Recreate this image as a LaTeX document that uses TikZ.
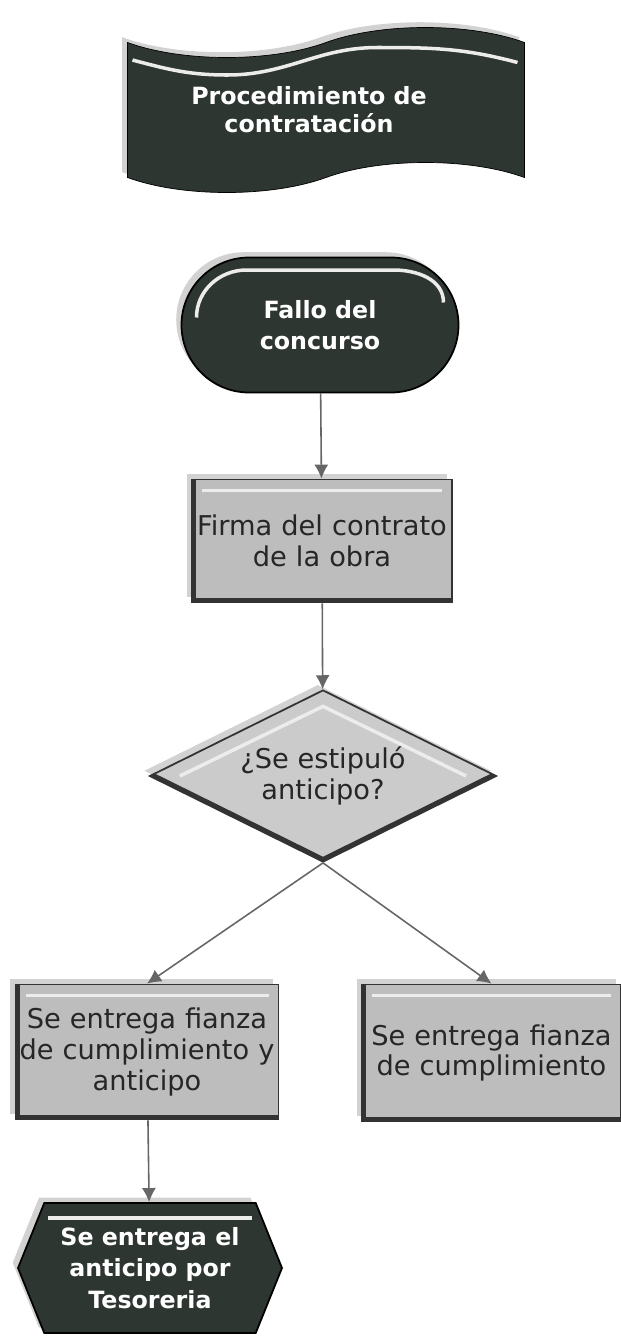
\documentclass[tikz,border=0pt]{standalone}
\usepackage{fontspec}
\setmainfont{DejaVu Sans}
\usetikzlibrary{arrows.meta,shapes.geometric,shapes.symbols,shapes.misc,shadows}
\definecolor{oscuro}{HTML}{2E3631}
\definecolor{gris}{HTML}{BDBDBD}
\definecolor{grisclaro}{HTML}{CBCBCB}
\definecolor{borde}{HTML}{333333}

\begin{document}
\begin{tikzpicture}[auto,
  letra/.style={font=\fontsize{15.5}{17.5}\selectfont, align=center, inner sep=0pt},
  blanca/.style={font=\bfseries\fontsize{13.5}{18}\selectfont, align=center, inner sep=0pt, text=white},
  sombra/.style={drop shadow={shadow xshift=-3pt, shadow yshift=3pt, fill=black!35, opacity=.5}},
  brillo/.style={draw=white!85!gray, line width=2pt},
  banda/.style={tape, tape bend top=in and out, tape bend bottom=in and out, tape bend height=0.6cm,
    fill=oscuro, draw=black, sombra, minimum width=7.94cm, minimum height=3.3cm, blanca,
    font=\bfseries\fontsize{13.5}{16}\selectfont,
    path picture={\draw[brillo] ([shift={(0.1,-0.75)}]path picture bounding box.north west)
      to[out=-15,in=180] ([shift={(2.0,-1.05)}]path picture bounding box.north west)
      to[out=0,in=180] ([shift={(5.0,-0.5)}]path picture bounding box.north west)
      to[out=0,in=165] ([shift={(7.8,-0.8)}]path picture bounding box.north west);}},
  terminal/.style={rounded rectangle, fill=oscuro, draw=black, line width=1pt, sombra, blanca,
    minimum width=5.54cm, minimum height=2.7cm,
    path picture={\draw[brillo] ([shift={(0.3,-1.2)}]path picture bounding box.north west)
      to[out=90,in=180] ([shift={(1.3,-0.25)}]path picture bounding box.north west)
      -- ([shift={(-1.3,-0.25)}]path picture bounding box.north east)
      to[out=0,in=90] ([shift={(-0.3,-0.9)}]path picture bounding box.north east);}},
  proceso/.style={rectangle, fill=gris, draw=borde, line width=1pt, sombra, letra, text=black!85,
    path picture={\draw[brillo] ([shift={(0.2,-0.22)}]path picture bounding box.north west)
      -- ([shift={(-0.2,-0.22)}]path picture bounding box.north east);
      \draw[borde, line width=5pt] (path picture bounding box.north west)
      -- (path picture bounding box.south west) -- (path picture bounding box.south east);}},
  decision/.style={diamond, aspect=2, fill=grisclaro, draw=borde, line width=1pt, sombra, letra, text=black!85,
    minimum width=6.94cm, minimum height=3.44cm,
    path picture={\draw[brillo] ([xshift=0.6cm]path picture bounding box.west)
      -- ([yshift=-0.32cm]path picture bounding box.north) -- ([xshift=-0.6cm]path picture bounding box.east);
      \draw[borde, line width=5pt] (path picture bounding box.west)
      -- (path picture bounding box.south) -- (path picture bounding box.east);}},
  preparacion/.style={signal, signal to=west and east, signal pointer angle=136, fill=oscuro, draw=black,
    line width=1pt, sombra, blanca, minimum width=5.28cm, minimum height=2.6cm,
    path picture={\draw[brillo] ([shift={(0.6,-0.3)}]path picture bounding box.north west)
      -- ([shift={(-0.6,-0.3)}]path picture bounding box.north east);}},
  flecha/.style={draw=black!55, line width=0.9pt, -{Latex[length=8pt,width=8pt]}, color=black!60}]
\useasboundingbox (0,0) rectangle (12.42,-26.72);
\node[banda] (inicio) at (6.52,-2.2) {\hspace*{-0.68cm}Procedimiento de\\\hspace*{-0.68cm}contratación};
\node[terminal] (fallo) at (6.4,-6.5) {Fallo del\\concurso};
\node[proceso, minimum width=5.2cm, minimum height=2.46cm, text width=5.2cm] (firma) at (6.44,-10.82) {Firma del contrato\\de la obra};
\node[decision] (pregunta) at (6.46,-15.52) {¿Se estipuló\\anticipo?};
\node[proceso, minimum width=5.26cm, minimum height=2.7cm, text width=5.26cm] (ambos) at (2.94,-21.04) {Se entrega fianza\\de cumplimiento y\\anticipo};
\node[proceso, minimum width=5.18cm, minimum height=2.74cm, text width=5.18cm] (fianza) at (9.83,-21.06) {Se entrega fianza\\de cumplimiento};
\node[preparacion] (tesoreria) at (3.0,-25.36) {Se entrega el\\anticipo por\\Tesoreria};
\draw [flecha] (fallo)    to (firma);
\draw [flecha] (firma)    to (pregunta);
\draw [flecha] (pregunta.south) to (ambos.north);
\draw [flecha] (pregunta.south) to (fianza.north);
\draw [flecha] (ambos)    to (tesoreria);
\end{tikzpicture}
\end{document}
